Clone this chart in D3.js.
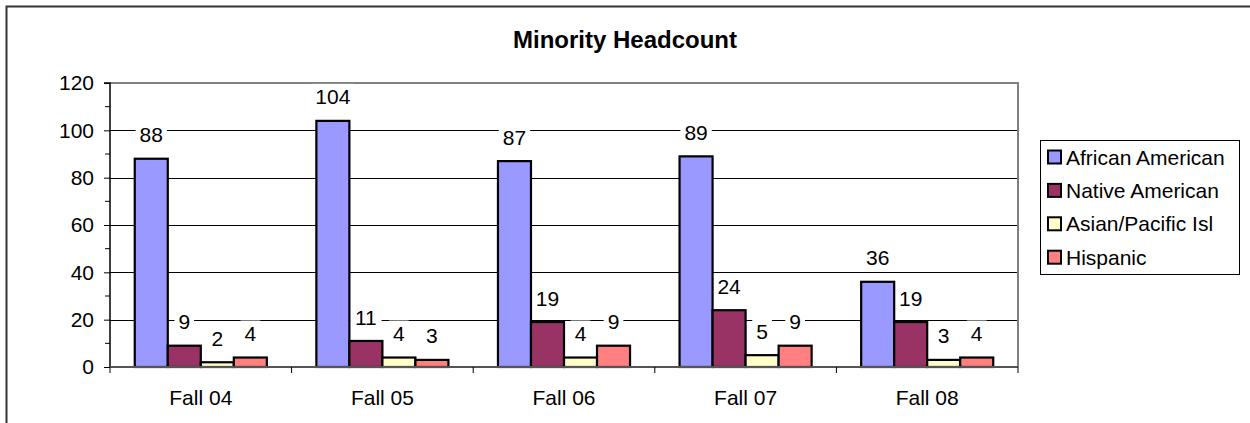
<html>
<head>
<style>
  body { margin: 0; background: #fff; overflow: hidden; }
  svg { display: block; }
  svg text { font-family: Arial, "Liberation Sans", sans-serif; fill: #000; }
</style>
</head>
<body>
<svg width="1250" height="423"></svg>
<script src="https://d3js.org/d3.v7.min.js"></script>
<script>
// chart data
const terms = ["Fall 04", "Fall 05", "Fall 06", "Fall 07", "Fall 08"];
const groups = ["African American", "Native American", "Asian/Pacific Isl", "Hispanic"];
const africanAmerican = [88, 104, 87, 89, 36];
const nativeAmerican = [9, 11, 19, 24, 19];
const asianPacific = [2, 4, 4, 5, 3];
const hispanic = [4, 3, 9, 9, 4];
const yTicks = [0, 20, 40, 60, 80, 100, 120];
const colors = ["#9999FF", "#993366", "#FFFFCC", "#FF8080"];

const seriesVals = [africanAmerican, nativeAmerican, asianPacific, hispanic];

let svg = d3.select("svg");

// outer chart frame
svg.append("rect")
    .attr("x", 6.5).attr("y", 6.5)
    .attr("width", 1260).attr("height", 430)
    .style("fill", "none")
    .style("stroke", "#333")
    .style("stroke-width", 2);

svg.append("text")
    .attr("x", 625).attr("y", 48)
    .attr("text-anchor", "middle")
    .style("font-size", "24px")
    .style("font-weight", "bold")
    .text("Minority Headcount");

let plotL = 110, plotR = 1018, plotT = 83, plotB = 367;

let x = d3.scaleBand().domain(terms).range([plotL, plotR]).paddingInner(0).paddingOuter(0);
let xInner = d3.scaleBand().domain(groups).range([0, x.bandwidth()]).paddingOuter(0.75).paddingInner(0);
let y = d3.scaleLinear().domain([0, 120]).range([plotB, plotT]);

// gridlines
svg.append("g").selectAll("line")
    .data(yTicks.filter(t => t > 0 && t < 120))
    .enter().append("line")
    .attr("x1", plotL).attr("x2", plotR)
    .attr("y1", d => Math.round(y(d)) + 0.5).attr("y2", d => Math.round(y(d)) + 0.5)
    .style("stroke", "#000")
    .style("stroke-width", 1);

// plot area border (top and right, gray)
svg.append("path")
    .attr("d", `M${plotL},${y(120)}H${plotR}V${plotB}`)
    .style("fill", "none")
    .style("stroke", "#808080")
    .style("stroke-width", 2);

let labelData = (d, i) => groups.map((g, j) => ({ g: g, v: seriesVals[j][i], c: colors[j] }));

let cat = svg.append("g").selectAll("g")
    .data(terms)
    .enter().append("g")
    .attr("transform", d => `translate(${x(d)},0)`);

// white backing behind labels (under the bars)
cat.selectAll(".labbg")
    .data(labelData)
    .enter().append("rect")
    .attr("class", "labbg")
    .attr("x", d => xInner(d.g) + xInner.bandwidth() / 2 - (String(d.v).length * 5.85 + 4))
    .attr("y", d => y(d.v) - 24 - 13)
    .attr("width", d => String(d.v).length * 11.7 + 8)
    .attr("height", 26)
    .style("fill", "#fff");

// bars
cat.selectAll(".bar")
    .data(labelData)
    .enter().append("rect")
    .attr("class", "bar")
    .attr("x", d => xInner(d.g))
    .attr("y", d => y(d.v))
    .attr("width", xInner.bandwidth())
    .attr("height", d => y(0) - y(d.v))
    .style("fill", d => d.c)
    .style("stroke", "#000")
    .style("stroke-width", 2.2);

// data labels
cat.selectAll(".lab")
    .data(labelData)
    .enter().append("text")
    .attr("class", "lab")
    .attr("x", d => xInner(d.g) + xInner.bandwidth() / 2)
    .attr("y", d => y(d.v) - 24)
    .attr("text-anchor", "middle")
    .attr("dy", "0.36em")
    .style("font-size", "21px")
    .text(d => d.v);

// y axis
let yAxis = d3.axisLeft(y).tickValues(yTicks).tickSize(6).tickPadding(10);
let ya = svg.append("g").attr("transform", `translate(${plotL},0)`).call(yAxis);
ya.select(".domain").style("stroke", "#000").style("stroke-width", 1.5).attr("d", `M-6,${plotT}H0V${plotB}`);
ya.selectAll("text").style("font-size", "21px").style("font-family", "Arial, 'Liberation Sans', sans-serif");
// minor ticks
ya.selectAll(".minor")
    .data(d3.range(10, 120, 20))
    .enter().append("line")
    .attr("class", "minor")
    .attr("x1", -5).attr("x2", 0)
    .attr("y1", d => y(d)).attr("y2", d => y(d))
    .style("stroke", "#000");

// x axis
svg.append("line")
    .attr("x1", plotL).attr("x2", plotR)
    .attr("y1", plotB).attr("y2", plotB)
    .style("stroke", "#555").style("stroke-width", 2);
svg.append("g").selectAll("line")
    .data(terms.concat(["end"]))
    .enter().append("line")
    .attr("x1", (d, i) => plotL + i * x.bandwidth())
    .attr("x2", (d, i) => plotL + i * x.bandwidth())
    .attr("y1", plotB).attr("y2", plotB + 6)
    .style("stroke", "#000");
svg.append("g").selectAll("text")
    .data(terms)
    .enter().append("text")
    .attr("x", d => x(d) + x.bandwidth() / 2)
    .attr("y", 405)
    .attr("text-anchor", "middle")
    .style("font-size", "21px")
    .text(d => d);

// legend
let legend = svg.append("g").attr("transform", "translate(1040,140)");
legend.append("rect")
    .attr("x", 0.5).attr("y", 0.5)
    .attr("width", 199).attr("height", 134)
    .style("fill", "#fff")
    .style("stroke", "#000")
    .style("stroke-width", 1);
let items = legend.selectAll(".item")
    .data(groups)
    .enter().append("g")
    .attr("class", "item")
    .attr("transform", (d, i) => `translate(8,${17 + i * 33.4})`);
items.append("rect")
    .attr("x", 0).attr("y", -6.5)
    .attr("width", 13).attr("height", 13)
    .style("fill", (d, i) => colors[i])
    .style("stroke", "#000")
    .style("stroke-width", 2);
items.append("text")
    .attr("x", 18).attr("dy", "0.36em")
    .style("font-size", "21px")
    .text(d => d);
</script>
</body>
</html>
